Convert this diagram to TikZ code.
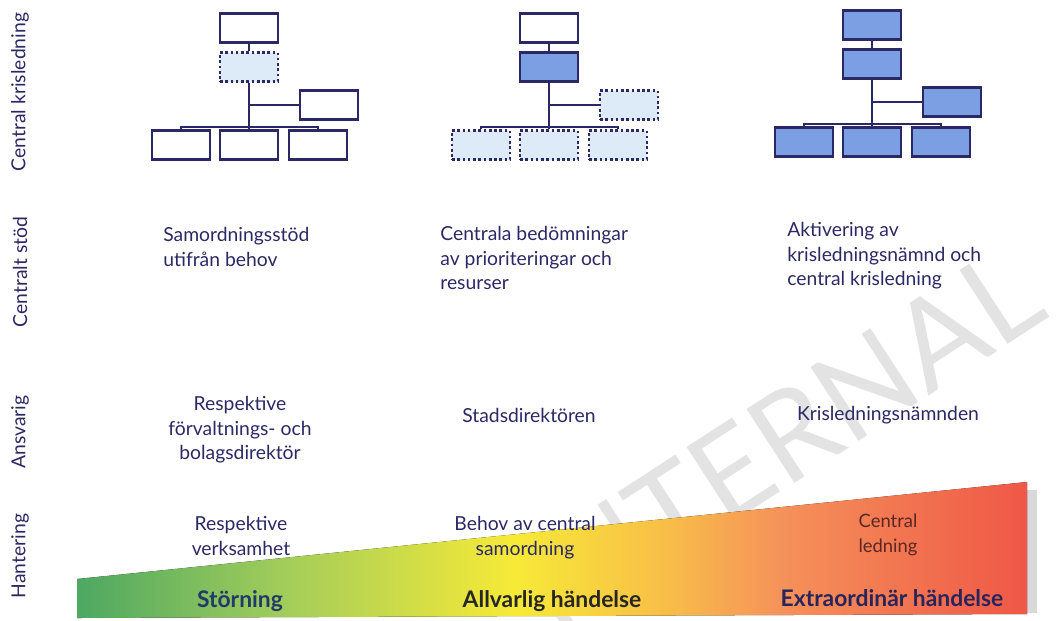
\documentclass[tikz,border=0pt]{standalone}
\usepackage{fontspec}
\setmainfont{Lato}
\usetikzlibrary{positioning}

\definecolor{navy}{HTML}{2B2965}
\definecolor{boxblue}{HTML}{7C9EE2}
\definecolor{boxlight}{HTML}{DDEAF8}
\definecolor{wgreen}{HTML}{4DA862}
\definecolor{wlime}{HTML}{A3CD5A}
\definecolor{wyellow}{HTML}{F7EA37}
\definecolor{wamber}{HTML}{F8BE48}
\definecolor{worange}{HTML}{F5925A}
\definecolor{wred}{HTML}{EF5746}
\definecolor{ledbrown}{HTML}{5A2626}

\pgfdeclarehorizontalshading{wedgeshade}{100bp}{color(0bp)=(wgreen); color(25bp)=(wgreen);
  color(36bp)=(wlime); color(48bp)=(wyellow); color(56bp)=(wamber); color(62bp)=(worange);
  color(75bp)=(wred); color(100bp)=(wred)}

% one org chart: prefix, x, y of top box, styles of top, middle, side and bottom boxes
\newcommand{\orgchart}[7]{%
  \node[#4] (#1top) at (#2,#3) {};
  \node[#5] (#1mid) at (#2,#3+39) {};
  \node[#6] (#1side) at (#2+80,#3+77) {};
  \node[#7] (#1left) at (#2-68,#3+117) {};
  \node[#7] (#1center) at (#2,#3+117) {};
  \node[#7] (#1right) at (#2+69,#3+117) {};
  \coordinate (#1bar) at (#2,#3+99);
  \draw[link] (#1top) -- (#1mid);
  \draw[link] (#1mid) -- (#1bar);
  \draw[link] (#1side.west) -- (#1side.west -| #1mid);
  \draw[link] (#1left.north) |- (#1bar) -| (#1right.north);
  \draw[link] (#1bar) -- (#1center.north);
}

\begin{document}
\begin{tikzpicture}
    [x=0.02cm,y=-0.02cm,
    orgbox/.style={draw=navy,line width=1.4pt,minimum width=1.16cm,minimum height=0.58cm,inner sep=0pt},
    plainbox/.style={orgbox,fill=white},
    dotbox/.style={orgbox,fill=boxlight,dash pattern=on 1.5pt off 1.5pt},
    bluebox/.style={orgbox,fill=boxblue},
    link/.style={navy,line width=1.4pt},
    rowlabel/.style={rotate=90,navy,font=\fontsize{11}{13}\selectfont},
    info/.style={navy,inner sep=0pt,font=\fontsize{11}{14}\selectfont},
    level/.style={inner sep=0pt,font=\fontsize{13}{15}\selectfont\bfseries}]

\useasboundingbox (0,0) rectangle (1060,620);

%watermark
\node[gray!22,rotate=33,font=\fontsize{70}{70}\selectfont] (mark) at (780,440) {INTERNAL};

%row labels
\node[rowlabel] (lkris) at (20,92) {Central krisledning};
\node[rowlabel] (lstod) at (20,272) {Centralt stöd};
\node[rowlabel] (lansv) at (20,432) {Ansvarig};
\node[rowlabel] (lhant) at (20,556) {Hantering};

%org charts
\orgchart{a}{249}{28}{plainbox}{dotbox}{plainbox}{plainbox}
\orgchart{b}{549}{28}{plainbox}{bluebox}{dotbox}{dotbox}
\orgchart{c}{872}{25}{bluebox}{bluebox}{bluebox}{bluebox}

%central support
\node[info,align=left,anchor=north west] (stoda) at (163,227) {Samordningsstöd\\utifrån behov};
\node[info,align=left,anchor=north west] (stodb) at (440,226) {Centrala bedömningar\\av prioriteringar och\\resurser};
\node[info,align=left,anchor=north west] (stodc) at (787,222) {Aktivering av\\krisledningsnämnd och\\central krisledning};

%responsible
\node[info,align=center,anchor=north] (ansva) at (240,396) {Respektive\\förvaltnings- och\\bolagsdirektör};
\node[info] (ansvb) at (529,415) {Stadsdirektören};
\node[info] (ansvc) at (888,415) {Krisledningsnämnden};

%severity wedge
\fill[gray!30] (1027,490) rectangle (1037,613);
\fill[shading=wedgeshade] (77,579) -- (1027,482) -- (1027,614) -- (77,618) -- cycle;

%handling
\node[info,align=center,anchor=north] (hanta) at (241,516) {Respektive\\verksamhet};
\node[info,align=center,anchor=north] (hantb) at (525,516) {Behov av central\\samordning};
\node[info,align=center,anchor=north,ledbrown,font=\fontsize{10.5}{14}\selectfont] (hantc) at (888,514) {Central\\ledning};

\node[level,text=navy!80!teal] (storning) at (240,601) {Störning};
\node[level,text=black!85] (allvarlig) at (552,601) {Allvarlig händelse};
\node[level,text=navy!90!black] (extra) at (892,598) {Extraordinär händelse};

\end{tikzpicture}
\end{document}
